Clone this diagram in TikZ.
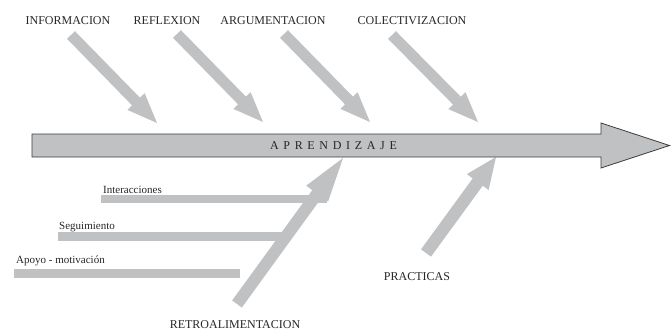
\documentclass[tikz,border=0pt]{standalone}
\usepackage{fontspec}
\setmainfont{Liberation Serif}
\newfontfamily\spacedfont[LetterSpace=39]{Liberation Serif}
\usetikzlibrary{calc}
\definecolor{armgray}{HTML}{C0C1C3}
\definecolor{txtcol}{HTML}{262626}
\definecolor{edgecol}{HTML}{3C3C3C}
\newcommand{\FatArrow}[5]{%
  \coordinate (#1-h) at ($(#2)!#5!(#1)$);
  \fill[armgray] ($(#1)!#3!90:(#2)$) -- ($(#1-h)!#3!90:(#2)$) -- ($(#1-h)!#4!90:(#2)$) -- (#2)
     -- ($(#1-h)!#4!-90:(#2)$) -- ($(#1-h)!#3!-90:(#2)$) -- ($(#1)!#3!-90:(#2)$) -- cycle;}
\tikzset{
  biglabel/.style={text=txtcol, font=\rmfamily\fontsize{12}{14}\selectfont, inner sep=0pt},
  smalllabel/.style={text=txtcol, font=\rmfamily\fontsize{11}{13}\selectfont, inner sep=0pt, anchor=base west},
  bar/.style={draw=armgray, line width=8.5pt},
  mainarrow/.style={fill=armgray, draw=edgecol, line width=0.8pt, line join=miter}
}
\begin{document}
\begin{tikzpicture}[x=1pt,y=-1pt]
\useasboundingbox (0,0) rectangle (671,330);
% top arrows
\coordinate (t1) at (71,35);  \coordinate (p1) at (157,123);
\coordinate (t2) at (177,34); \coordinate (p2) at (263,122);
\coordinate (t3) at (284,34); \coordinate (p3) at (370,122);
\coordinate (t4) at (392,35); \coordinate (p4) at (478,122);
\FatArrow{t1}{p1}{5.5pt}{12pt}{30pt}
\FatArrow{t2}{p2}{5.5pt}{12pt}{30pt}
\FatArrow{t3}{p3}{5.5pt}{12pt}{30pt}
\FatArrow{t4}{p4}{5.5pt}{12pt}{30pt}
% bars
\coordinate (b1s) at (101,199);   \coordinate (b1e) at (327,199);
\coordinate (b2s) at (58,236.5);  \coordinate (b2e) at (284,236.5);
\coordinate (b3s) at (14,273.5);  \coordinate (b3e) at (240,273.5);
\draw[bar] (b1s) -- (b1e);
\draw[bar] (b2s) -- (b2e);
\draw[bar] (b3s) -- (b3e);
% bottom arrows
\coordinate (t5) at (237,304); \coordinate (p5) at (343,158);
\coordinate (t6) at (426,253); \coordinate (p6) at (496,157);
\FatArrow{t5}{p5}{6pt}{13.5pt}{44pt}
\FatArrow{t6}{p6}{6.2pt}{13.5pt}{31pt}
% main arrow
\draw[mainarrow] (32,134) -- (601,134) -- (601,123) -- (669.5,145.5) -- (601,168) -- (601,157) -- (32,157) -- cycle;
\node[biglabel] (apr) at (333.5,146) {\spacedfont APRENDIZAJE};
% labels
\node[biglabel] (inf) at (68,21) {INFORMACION};
\node[biglabel] (ref) at (167,21) {REFLEXION};
\node[biglabel] (arg) at (273,21) {ARGUMENTACION};
\node[biglabel] (col) at (412,21) {COLECTIVIZACION};
\node[biglabel] (pra) at (417,277) {PRACTICAS};
\node[biglabel] (ret) at (235,324.5) {RETROALIMENTACION};
\node[smalllabel] (int) at (103,193) {Interacciones};
\node[smalllabel] (seg) at (59,229) {Seguimiento};
\node[smalllabel] (apo) at (16,263) {Apoyo - motivación};
\end{tikzpicture}
\end{document}
